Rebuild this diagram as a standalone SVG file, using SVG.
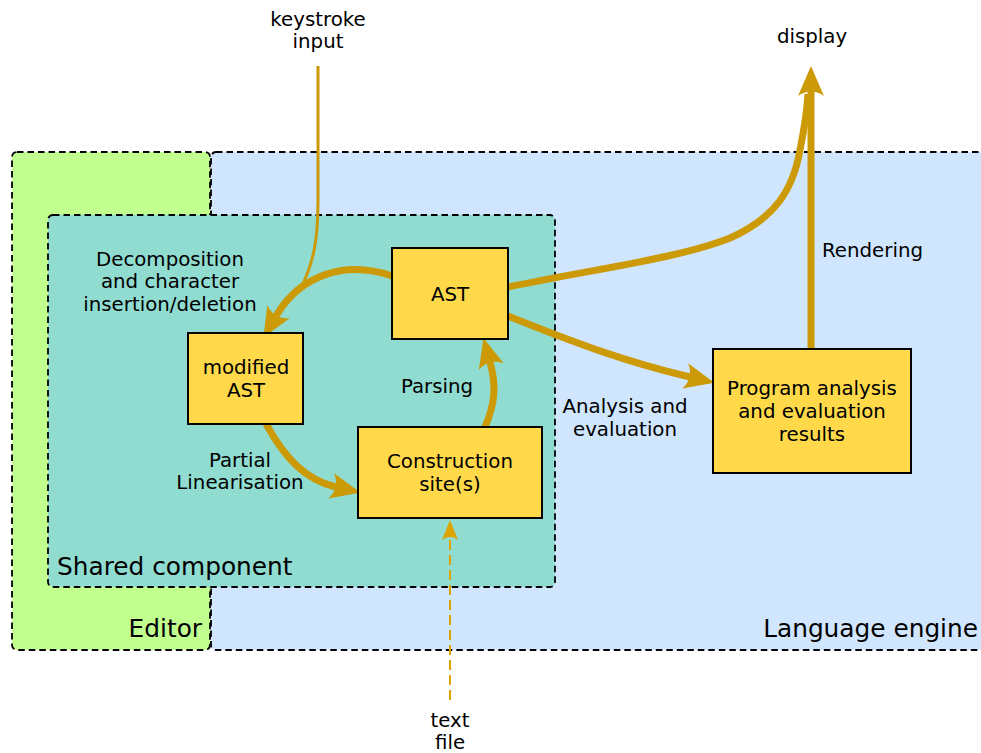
<svg xmlns="http://www.w3.org/2000/svg" width="981" height="753" viewBox="0 0 981 753">
  <defs>
    <style>
      text { font-family: "DejaVu Sans", "Liberation Sans", sans-serif; fill: #000; }
      .lbl { font-size: 19.8px; text-anchor: middle; }
      .start { text-anchor: start; }
      .big { font-size: 24.8px; }
      .zone { stroke: #000; stroke-width: 1.8; stroke-dasharray: 6.5 4; }
      .box { fill: #ffd94a; stroke: #000; stroke-width: 2; }
      .flow { fill: none; stroke: #cc9a06; stroke-width: 7; }
      .thin { fill: none; stroke: #cc9a06; stroke-width: 3; }
      .dash { fill: none; stroke: #dba400; stroke-width: 2; stroke-dasharray: 10 5; }
    </style>
    <marker id="head" markerUnits="userSpaceOnUse" viewBox="0 0 30 26" markerWidth="30" markerHeight="26" refX="5" refY="13" orient="auto">
      <path d="M30 13 L0 0 C6 8 6 18 0 26 Z" fill="#cc9a06"/>
    </marker>
    <marker id="headSmall" markerUnits="userSpaceOnUse" viewBox="0 0 20 16" markerWidth="20" markerHeight="16" refX="4" refY="8" orient="auto">
      <path d="M20 8 L0 0 C4 5 4 11 0 16 Z" fill="#dba400"/>
    </marker>
  </defs>

  <!-- containers -->
  <g id="editor">
    <rect class="zone" x="12" y="152" width="198" height="498" rx="5" fill="#c1ff8f"/>
    <text class="big" x="202" y="637" text-anchor="end">Editor</text>
  </g>
  <g id="language-engine">
    <rect class="zone" x="211" y="152" width="790" height="498" rx="5" fill="#d0e6fe"/>
    <text class="big" x="978" y="637" text-anchor="end">Language engine</text>
  </g>
  <g id="shared-component">
    <rect class="zone" x="48" y="215" width="507" height="372" rx="5" fill="#91dcd1"/>
    <text class="big" x="57" y="575">Shared component</text>
  </g>

  <!-- connectors -->
  <g id="connectors">
    <path class="thin" d="M318 66 L318 200 C318 240 314 262 300 290"/>
    <path class="flow" d="M392 276 C345 260 300 275 276 316" marker-end="url(#head)"/>
    <path class="flow" d="M266 424 C285 458 305 480 336 487" marker-end="url(#head)"/>
    <path class="flow" d="M485 427 C496 402 496 384 490 362" marker-end="url(#head)"/>
    <path class="flow" d="M508 316 C580 345 630 363 690 377" marker-end="url(#head)"/>
    <path class="flow" d="M508 287 C600 268 680 258 730 238 C775 218 793 190 800 150 C805 125 807 110 808 94"/>
    <path class="flow" d="M811 349 L811 91" marker-end="url(#head)"/>
    <path class="dash" d="M450 700 L450 536" marker-end="url(#headSmall)"/>
  </g>

  <!-- nodes -->
  <g id="ast">
    <rect class="box" x="392" y="248" width="116" height="91"/>
    <text class="lbl" x="450" y="301">AST</text>
  </g>
  <g id="modified-ast">
    <rect class="box" x="188" y="333" width="115" height="91"/>
    <text class="lbl" x="246" y="374">modified</text>
    <text class="lbl" x="246" y="397">AST</text>
  </g>
  <g id="construction-sites">
    <rect class="box" x="358" y="427" width="184" height="91"/>
    <text class="lbl" x="450" y="468">Construction</text>
    <text class="lbl" x="450" y="491">site(s)</text>
  </g>
  <g id="analysis-results">
    <rect class="box" x="713" y="349" width="198" height="124"/>
    <text class="lbl" x="812" y="395">Program analysis</text>
    <text class="lbl" x="812" y="418">and evaluation</text>
    <text class="lbl" x="812" y="441">results</text>
  </g>

  <!-- edge and endpoint labels -->
  <g id="labels">
    <text class="lbl" x="318" y="26">keystroke</text>
    <text class="lbl" x="318" y="48">input</text>
    <text class="lbl" x="812" y="43">display</text>
    <text class="lbl" x="450" y="727">text</text>
    <text class="lbl" x="450" y="749">file</text>
    <text class="lbl" x="170" y="266">Decomposition</text>
    <text class="lbl" x="170" y="288">and character</text>
    <text class="lbl" x="170" y="311">insertion/deletion</text>
    <text class="lbl" x="437" y="393">Parsing</text>
    <text class="lbl" x="240" y="467">Partial</text>
    <text class="lbl" x="240" y="489">Linearisation</text>
    <text class="lbl" x="625" y="413">Analysis and</text>
    <text class="lbl" x="625" y="436">evaluation</text>
    <text class="lbl start" x="822" y="257">Rendering</text>
  </g>
</svg>
